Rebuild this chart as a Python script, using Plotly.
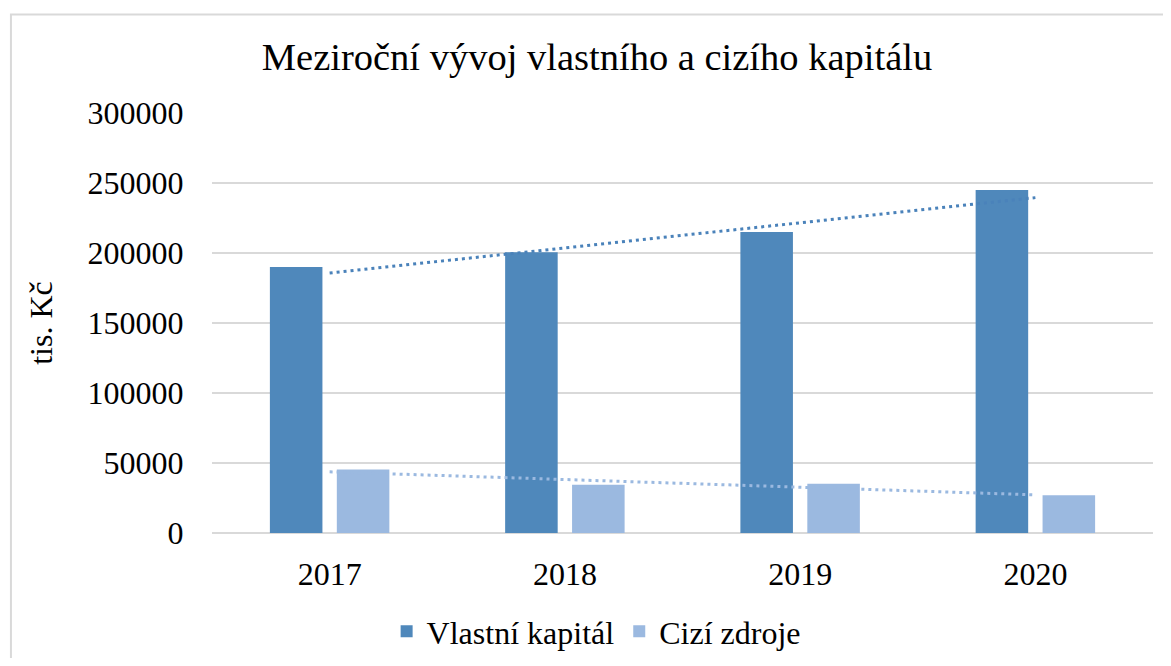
import numpy as np
import plotly.graph_objects as go

years = ["2017", "2018", "2019", "2020"]
vlastni_kapital = [190000, 200500, 215000, 245000]
cizi_zdroje = [45400, 34400, 35100, 26900]
y_ticks = [0, 50000, 100000, 150000, 200000, 250000, 300000]

DARK = "#4F88BB"
LIGHT = "#9BB9E0"
FONT = "Liberation Serif, Times New Roman, serif"

W, H = 1155, 650  # page body has 8px margin
OFF = 8

idx = np.arange(len(years))
def trend(vals):
    k, q = np.polyfit(idx, vals, 1)
    return (k * idx + q).tolist()

fig = go.Figure()
fig.add_trace(go.Bar(x=years, y=vlastni_kapital, name="Vlastní kapitál",
                     marker=dict(color=DARK, line=dict(width=0))))
fig.add_trace(go.Bar(x=years, y=cizi_zdroje, name="Cizí zdroje",
                     marker=dict(color=LIGHT, line=dict(width=0))))
fig.add_trace(go.Scatter(x=years, y=trend(vlastni_kapital), mode="lines",
                         line=dict(color="#4A82BA", width=3, dash="3px,4px"),
                         showlegend=False, hoverinfo="skip"))
fig.add_trace(go.Scatter(x=years, y=trend(cizi_zdroje), mode="lines",
                         line=dict(color=LIGHT, width=3, dash="3px,4px"),
                         showlegend=False, hoverinfo="skip"))

pl, pr, pt, pb = 212 - OFF, 1152.7 - OFF, 112.7 - OFF, 533.3 - OFF
pw, ph = pr - pl, pb - pt

fig.update_layout(
    width=W, height=H,
    margin=dict(l=pl, r=W - pr, t=pt, b=H - pb, autoexpand=False),
    paper_bgcolor="white", plot_bgcolor="white",
    font=dict(family=FONT, size=32, color="black"),
    barmode="group", bargap=0.431, bargroupgap=0.215,
    title=dict(text="Meziroční vývoj vlastního a cizího kapitálu",
               font=dict(family=FONT, size=38.5, color="black"),
               x=(597 - OFF) / W, xanchor="center", y=1 - (57 - OFF) / H, yanchor="middle"),
    legend=dict(orientation="h", x=(596 - 212) / pw, xanchor="center",
                y=(533.3 - 632) / ph, yanchor="middle",
                font=dict(family=FONT, size=32), traceorder="normal"),
    showlegend=True,
    xaxis=dict(type="category", showgrid=False, showline=False, zeroline=False,
               ticks="outside", ticklen=13, tickcolor="rgba(0,0,0,0)",
               tickfont=dict(family=FONT, size=32)),
    yaxis=dict(range=[0, 300000], tickvals=y_ticks, ticktext=[str(v) for v in y_ticks],
               showgrid=True, gridcolor="#d9d9d9", gridwidth=2,
               zeroline=True, zerolinecolor="#d9d9d9", zerolinewidth=2,
               showline=False, ticks="outside", ticklen=21, tickcolor="rgba(0,0,0,0)",
               tickfont=dict(family=FONT, size=32),
               title=dict(text="tis. Kč", font=dict(family=FONT, size=32), standoff=25)),
    shapes=[dict(type="rect", xref="paper", yref="paper",
                 x0=(11 - 212) / pw, x1=1.2, y0=-0.6, y1=(533.3 - 14) / ph,
                 line=dict(color="#d9d9d9", width=2), fillcolor="rgba(0,0,0,0)",
                 layer="below")],
)

fig.write_html("out.html")
